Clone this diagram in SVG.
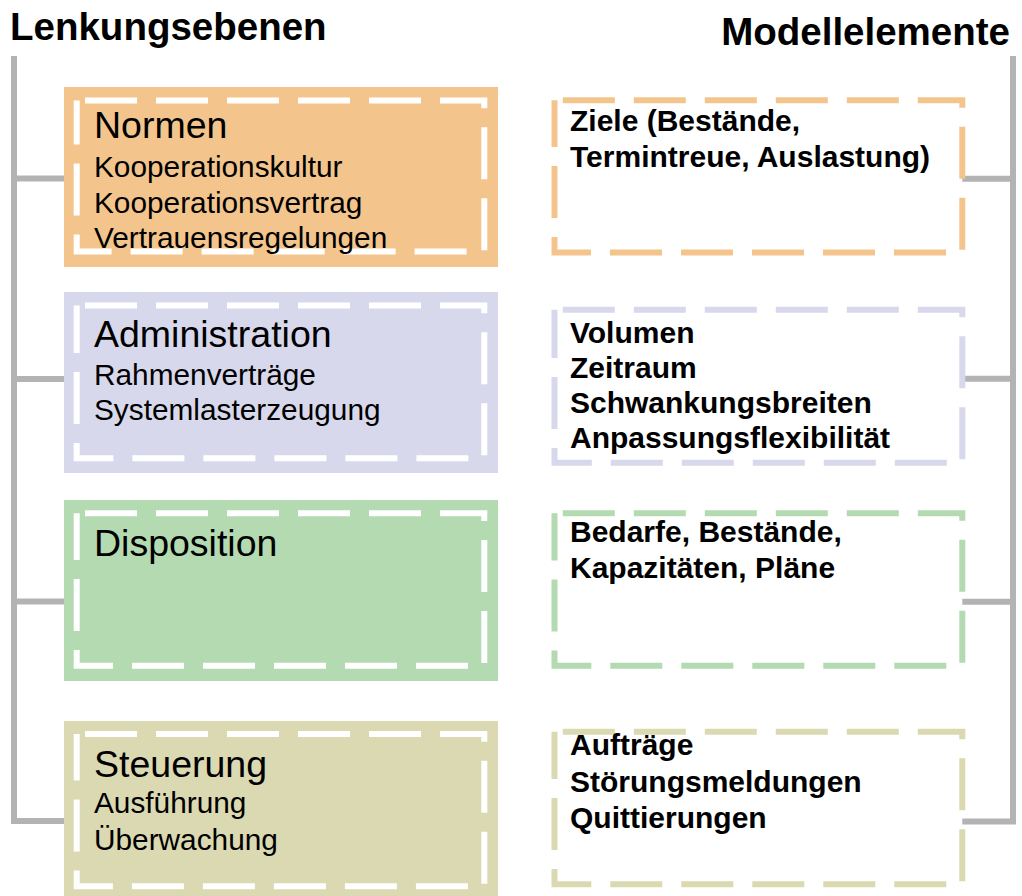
<svg xmlns="http://www.w3.org/2000/svg" width="1022" height="896" viewBox="0 0 1022 896">
<style>
.h{font-family:"Liberation Sans",Arial,sans-serif;font-weight:bold;font-size:38.5px;fill:#000}
.t{font-family:"Liberation Sans",Arial,sans-serif;font-size:37.5px;fill:#000}
.s{font-family:"Liberation Sans",Arial,sans-serif;font-size:29.8px;fill:#000}
.b{font-family:"Liberation Sans",Arial,sans-serif;font-weight:bold;font-size:30px;fill:#000}
.in{fill:none;stroke:#fff;stroke-width:6;stroke-dasharray:52 19;stroke-dashoffset:62.7}
.rd{fill:#fff;stroke-width:6;stroke-dasharray:52 19;stroke-dashoffset:62.7}
.ln{fill:none;stroke:#b3b3b3;stroke-width:6}
</style>
<rect width="1022" height="896" fill="#fff"/>
<text class="h" x="10" y="40">Lenkungsebenen</text>
<text class="h" x="1010" y="45" text-anchor="end">Modellelemente</text>
<g id="connectors">
<path class="ln" d="M14 56 V821 H64 M14 178.5 H64 M14 379 H64 M14 601.5 H64"/>
<path class="ln" d="M1013 56 V821.5 H962 M1013 178.7 H962 M1013 378.7 H962 M1013 601.7 H962"/>
</g>
<g id="normen">
<rect x="64" y="87" width="434" height="180" fill="#f3c58d"/>
<rect class="in" x="76.7" y="100.5" width="407.6" height="151"/>
<text class="t" x="94" y="138">Normen</text>
<text class="s" x="94" y="176.5">Kooperationskultur</text>
<text class="s" x="94" y="212.5">Kooperationsvertrag</text>
<text class="s" x="94" y="247.5">Vertrauensregelungen</text>
</g>
<g id="administration">
<rect x="64" y="292" width="434" height="181" fill="#d8d8ec"/>
<rect class="in" x="76.7" y="305.5" width="407.6" height="152.8"/>
<text class="t" x="94" y="346.5">Administration</text>
<text class="s" x="94" y="385">Rahmenverträge</text>
<text class="s" x="94" y="420">Systemlasterzeugung</text>
</g>
<g id="disposition">
<rect x="64" y="500" width="434" height="181" fill="#b3dab0"/>
<rect class="in" x="76.7" y="513.3" width="407.6" height="152.4"/>
<text class="t" x="94" y="556">Disposition</text>
</g>
<g id="steuerung">
<rect x="64" y="721" width="434" height="180" fill="#dbd9b1"/>
<rect class="in" x="76.7" y="734" width="407.6" height="152.3"/>
<text class="t" x="94" y="776.5">Steuerung</text>
<text class="s" x="94" y="813">Ausführung</text>
<text class="s" x="94" y="850">Überwachung</text>
</g>
<g id="ziele">
<rect class="rd" x="554.5" y="100.3" width="407.8" height="152.2" stroke="#f3c58d"/>
<text class="b" x="570" y="130.5">Ziele (Bestände,</text>
<text class="b" x="570" y="167">Termintreue, Auslastung)</text>
</g>
<g id="volumen">
<rect class="rd" x="554.5" y="309.7" width="407.8" height="153" stroke="#d8d8ec"/>
<text class="b" x="570" y="343">Volumen</text>
<text class="b" x="570" y="378">Zeitraum</text>
<text class="b" x="570" y="413">Schwankungsbreiten</text>
<text class="b" x="570" y="448">Anpassungsflexibilität</text>
</g>
<g id="bedarfe">
<rect class="rd" x="554.5" y="513.3" width="407.8" height="152.5" stroke="#b3dab0"/>
<text class="b" x="570" y="541.5">Bedarfe, Bestände,</text>
<text class="b" x="570" y="578">Kapazitäten, Pläne</text>
</g>
<g id="auftraege">
<rect class="rd" x="554.5" y="731.7" width="407.8" height="152.5" stroke="#dbd9b1"/>
<text class="b" x="570" y="755">Aufträge</text>
<text class="b" x="570" y="791.5">Störungsmeldungen</text>
<text class="b" x="570" y="827.5">Quittierungen</text>
</g>
</svg>
